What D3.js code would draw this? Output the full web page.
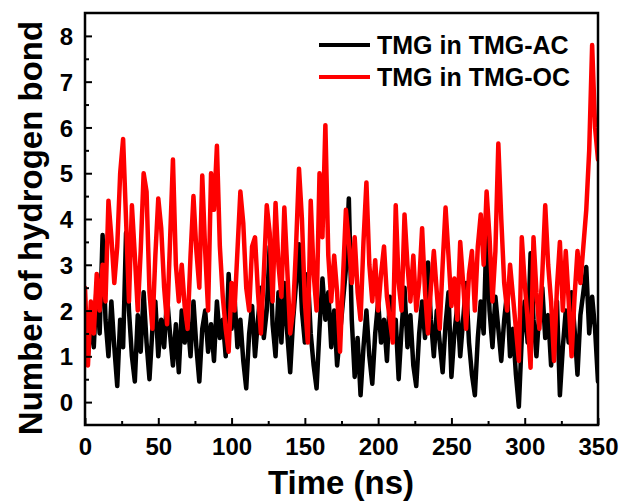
<!DOCTYPE html>
<html>
<head>
<meta charset="utf-8">
<script src="https://cdn.jsdelivr.net/npm/d3@7"></script>
<style>
  html, body { margin: 0; padding: 0; background: #fff; }
  svg { display: block; }
  text { font-family: "Liberation Sans", Arial, sans-serif; font-weight: bold; fill: #000; }
</style>
</head>
<body>
<svg id="chart" width="624" height="501"></svg>
<script>
// ---- data ----
const timeNs = [0,2,4,6,8,10,12,14,16,18,20,22,24,26,28,30,32,34,36,38,40,42,44,46,48,50,52,54,56,58,60,62,64,66,68,70,72,74,76,78,80,82,84,86,88,90,92,94,96,98,100,102,104,106,108,110,112,114,116,118,120,122,124,126,128,130,132,134,136,138,140,142,144,146,148,150,152,154,156,158,160,162,164,166,168,170,172,174,176,178,180,182,184,186,188,190,192,194,196,198,200,202,204,206,208,210,212,214,216,218,220,222,224,226,228,230,232,234,236,238,240,242,244,246,248,250,252,254,256,258,260,262,264,266,268,270,272,274,276,278,280,282,284,286,288,290,292,294,296,298,300,302,304,306,308,310,312,314,316,318,320,322,324,326,328,330,332,334,336,338,340,342,344,346,348,350];

const hbondAC = [1.6,1.0,1.8,1.2,2.6,1.5,3.65,1.8,1.0,2.2,
  1.2,0.35,1.8,1.2,3.7,2.0,1.0,0.45,1.9,1.1,
  2.4,1.3,0.5,1.6,2.2,1.0,1.8,1.2,2.3,1.5,
  0.8,1.7,0.65,2.0,1.3,1.8,1.0,2.2,1.2,0.45,
  1.6,2.0,1.1,1.7,0.9,2.2,1.4,1.8,1.0,2.8,
  1.6,2.3,1.2,1.8,0.9,0.3,1.5,2.1,1.0,1.8,
  2.5,1.4,2.0,3.4,1.7,1.0,2.4,1.3,2.6,1.5,
  0.65,1.8,2.6,3.45,2.0,1.3,2.8,1.5,0.8,0.3,
  1.6,2.7,1.8,2.4,1.2,2.0,0.8,1.5,2.2,2.9,
  4.45,1.8,0.55,1.4,0.15,1.2,2.0,1.0,0.4,1.5,
  2.2,1.3,1.8,0.9,2.3,1.4,1.8,0.5,1.6,2.5,
  1.2,1.9,0.8,0.35,1.5,2.2,1.4,3.05,1.8,1.0,
  2.0,1.3,0.65,1.7,2.4,0.55,1.5,2.1,1.0,1.8,
  2.6,1.3,0.6,0.15,1.4,2.2,1.5,3.85,2.0,1.2,
  2.3,1.6,0.9,1.8,2.4,1.0,1.6,0.6,-0.1,1.4,
  2.2,1.3,3.25,1.8,1.0,2.0,2.5,1.4,1.9,0.8,
  1.6,2.2,0.15,1.2,2.0,1.3,2.4,1.6,0.6,1.9,
  2.4,2.95,1.5,2.3,1.6,0.45];

const hbondOC = [2.5,0.8,2.2,1.5,2.8,2.0,3.0,2.2,4.4,3.6,
  2.6,3.4,5.0,5.75,4.0,2.2,4.3,3.2,2.0,3.3,
  5.0,4.6,2.4,1.6,3.2,4.45,3.8,2.5,1.7,3.5,
  5.3,3.0,2.2,3.0,2.1,1.6,3.2,4.5,3.3,2.5,
  4.95,3.3,2.0,5.0,4.2,5.6,3.4,2.3,1.6,1.1,
  2.6,2.0,3.3,4.6,3.9,2.5,2.0,3.4,3.6,2.4,
  1.5,2.8,4.3,3.7,2.2,4.35,3.0,2.3,4.25,2.9,
  1.5,2.0,3.4,5.1,4.0,2.2,1.3,4.4,2.8,2.0,
  5.0,3.6,6.05,3.2,2.2,3.2,2.4,1.1,2.7,4.2,
  3.5,2.6,3.6,2.4,1.8,3.5,4.8,3.0,2.2,3.1,
  2.0,2.8,3.4,2.3,1.8,1.3,4.3,2.6,2.0,4.1,
  3.0,2.2,3.2,2.0,2.6,3.8,2.4,1.5,2.5,3.3,
  2.4,1.6,3.0,4.25,3.2,2.1,2.7,1.8,3.5,2.6,
  1.6,2.8,3.3,2.0,3.4,4.1,3.0,4.6,3.6,2.2,
  3.3,5.65,4.0,2.6,2.0,3.0,2.3,1.6,0.9,3.6,
  2.6,1.8,0.75,3.6,2.4,1.6,2.8,4.3,3.0,2.2,
  0.9,2.5,3.5,2.0,3.3,2.2,1.0,2.3,3.3,2.6,
  3.4,4.2,5.5,7.8,6.0,5.3];

const seriesNames = ["TMG in TMG-AC", "TMG in TMG-OC"];
const seriesColors = ["#000000", "#ff0000"];
const xTicks = [0, 50, 100, 150, 200, 250, 300, 350];
const yTicks = [0, 1, 2, 3, 4, 5, 6, 7, 8];
const xTitle = "Time (ns)";
const yTitle = "Number of hydrogen bond";

// ---- layout ----
const plot = { left: 85, right: 598, top: 13, bottom: 425 };

const svg = d3.select("#chart");
const x = d3.scaleLinear().domain([0, 350]).range([plot.left, plot.right]);
const y = d3.scaleLinear().domain([-0.5, 8.5]).range([plot.bottom, plot.top]);

svg.append("defs").append("clipPath").attr("id", "clip")
  .append("rect")
  .attr("x", plot.left).attr("y", plot.top)
  .attr("width", plot.right - plot.left).attr("height", plot.bottom - plot.top);

const series = [hbondAC, hbondOC];
const line = d3.line().x((d, i) => x(timeNs[i])).y(d => y(d));

const g = svg.append("g").attr("clip-path", "url(#clip)");
series.forEach((vals, k) => {
  g.append("path")
    .datum(vals)
    .attr("d", line)
    .attr("fill", "none")
    .attr("stroke", seriesColors[k])
    .attr("stroke-width", 4.5)
    .attr("stroke-linejoin", "round")
    .attr("stroke-linecap", "round");
});

// ---- axes (ticks inward) ----
const xMinor = [25, 75, 125, 175, 225, 275, 325];
const yMinor = [0.5, 1.5, 2.5, 3.5, 4.5, 5.5, 6.5, 7.5];

const xAxis = d3.axisBottom(x).tickValues(xTicks).tickSizeInner(-7).tickSizeOuter(0).tickPadding(0).tickFormat(d3.format("d"));
const xAxisMinor = d3.axisBottom(x).tickValues(xMinor).tickSizeInner(-4).tickSizeOuter(0).tickFormat("");
const yAxis = d3.axisLeft(y).tickValues(yTicks).tickSizeInner(-7).tickSizeOuter(0).tickFormat(d3.format("d"));
const yAxisMinor = d3.axisLeft(y).tickValues(yMinor).tickSizeInner(-4).tickSizeOuter(0).tickFormat("");

function styleAxis(sel) {
  sel.select(".domain").remove();
  sel.selectAll(".tick line").attr("stroke", "#000").attr("stroke-width", 2);
}

const gx = svg.append("g").attr("transform", `translate(0,${plot.bottom})`).call(xAxis).call(styleAxis);
gx.selectAll(".tick text")
  .attr("y", 30).attr("dy", null)
  .style("font-size", "24px").style("font-family", "'Liberation Sans', Arial, sans-serif").style("font-weight", "bold");
svg.append("g").attr("transform", `translate(0,${plot.bottom})`).call(xAxisMinor).call(styleAxis);

const gy = svg.append("g").attr("transform", `translate(${plot.left},0)`).call(yAxis).call(styleAxis);
gy.selectAll(".tick text")
  .attr("x", -12).attr("dy", "0.36em")
  .style("font-size", "24px").style("font-family", "'Liberation Sans', Arial, sans-serif").style("font-weight", "bold");
svg.append("g").attr("transform", `translate(${plot.left},0)`).call(yAxisMinor).call(styleAxis);

// frame
svg.append("rect")
  .attr("x", plot.left).attr("y", plot.top)
  .attr("width", plot.right - plot.left).attr("height", plot.bottom - plot.top)
  .attr("fill", "none").attr("stroke", "#000").attr("stroke-width", 2.5);

// ---- titles ----
svg.append("text")
  .attr("x", 341).attr("y", 494)
  .attr("text-anchor", "middle")
  .style("font-size", "33px")
  .text(xTitle);

svg.append("text")
  .attr("transform", "translate(42,228) rotate(-90)")
  .attr("text-anchor", "middle")
  .style("font-size", "33px")
  .text(yTitle);

// ---- legend ----
const legendY = [45, 77];
seriesNames.forEach((name, k) => {
  svg.append("line")
    .attr("x1", 319).attr("x2", 370)
    .attr("y1", legendY[k]).attr("y2", legendY[k])
    .attr("stroke", seriesColors[k]).attr("stroke-width", 4);
  svg.append("text")
    .attr("x", 377).attr("y", legendY[k] + 8.5)
    .style("font-size", "25px")
    .text(name);
});
</script>
</body>
</html>
